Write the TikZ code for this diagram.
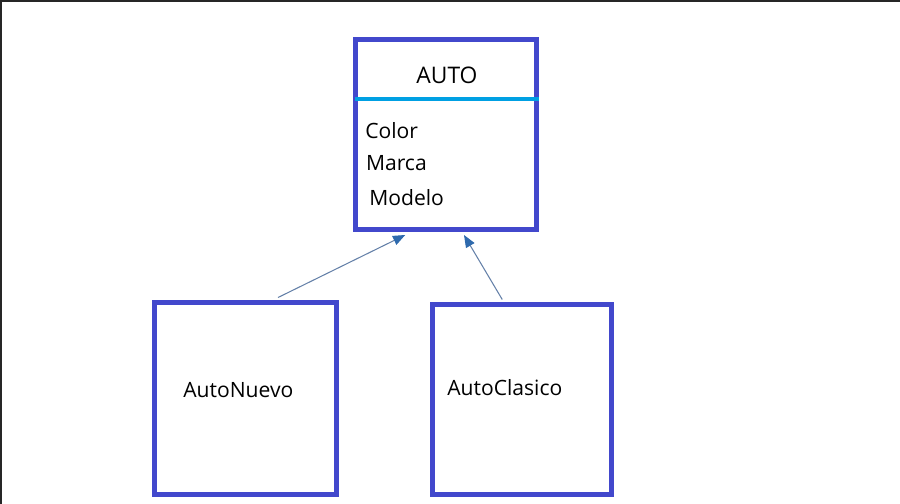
\documentclass[tikz,border=0pt]{standalone}
\usepackage{fontspec}
\setmainfont{Open Sans}
\usetikzlibrary{arrows.meta}
\definecolor{boxblue}{RGB}{66,72,204}
\definecolor{divcyan}{RGB}{0,160,227}
\definecolor{arrowblue}{RGB}{46,106,173}
\definecolor{arrowline}{RGB}{100,128,168}

\begin{document}
\begin{tikzpicture}[x=0.02cm,y=-0.02cm]
  \tikzstyle{classbox}=[draw=boxblue,line width=0.1cm,rectangle,inner sep=0pt]
  \tikzstyle{ctext}=[inner sep=0pt,font=\fontsize{12pt}{14pt}\selectfont]
  \tikzstyle{inherit}=[draw=arrowline,line width=0.6pt,-{Triangle[length=7pt,width=5.5pt,color=arrowblue,fill=arrowblue]}]

  \useasboundingbox (0,0) rectangle (900,504);
  % Draw the page frame
  \draw[line width=0.04cm,black!85] (1,504) -- (1,1) -- (900,1);

  % Draw the parent class
  \node[classbox, minimum width=3.63cm, minimum height=3.81cm] (auto) at (446.25,134.75) {};
  \node[ctext, anchor=base, font=\fontsize{13pt}{15pt}\selectfont] (auto-title) at (447,83.3) {AUTO};
  \coordinate (div-l) at (355,99);
  \coordinate (div-r) at (539,99);
  \draw[divcyan, line width=0.08cm] (div-l) -- (div-r);

  % Draw the attributes
  \foreach \name / \x / \y in {Color/365/138.3, Marca/365.7/170.7, Modelo/369/205.7}
  \node[ctext, anchor=base west] (A-\name) at (\x,\y) {\name};

  % Draw the child classes
  \node[classbox, minimum width=3.64cm, minimum height=3.85cm] (nuevo) at (245.5,398.75) {};
  \node[ctext, anchor=base west] (nuevo-l) at (183,397.3) {AutoNuevo};

  \node[classbox, minimum width=3.59cm, minimum height=3.81cm] (clasico) at (522.25,399.75) {};
  \node[ctext, anchor=base west] (clasico-l) at (447,395) {AutoClasico};

  % Connect nodes
  \draw[inherit] ([xshift=0.65cm,yshift=0.05cm]nuevo.north) -- ([xshift=-0.82cm,yshift=-0.05cm]auto.south);
  \draw[inherit] ([xshift=-0.4cm,yshift=0.05cm]clasico.north) -- ([xshift=0.355cm,yshift=-0.05cm]auto.south);
\end{tikzpicture}
\end{document}
